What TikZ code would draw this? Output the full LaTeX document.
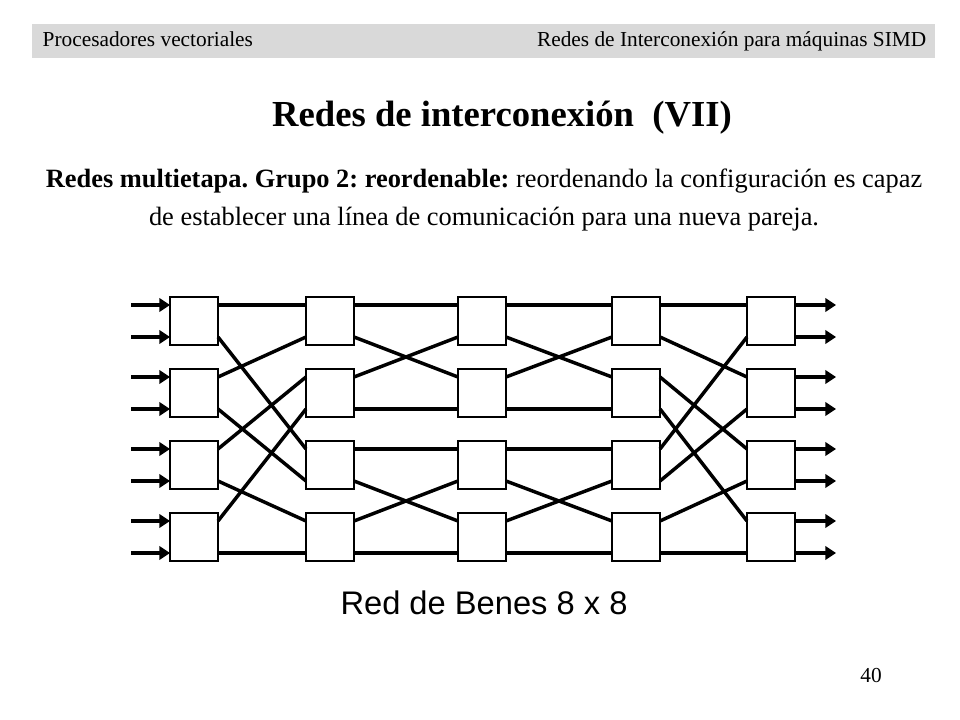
\documentclass[tikz,border=0pt]{standalone}
\usepackage{fontspec}
\setmainfont{Liberation Serif}
\newfontfamily\arialfont{Liberation Sans}
\usetikzlibrary{arrows.meta}
\definecolor{barGray}{RGB}{217,217,217}
\frenchspacing
\begin{document}
\begin{tikzpicture}[x=0.75pt,y=-0.75pt]
  \tikzstyle{switch}=[draw=black,thick,fill=white,minimum size=36pt,inner sep=0pt]
  \tikzstyle{link}=[draw,line width=2.6pt]
  \tikzstyle{port}=[draw,line width=2.6pt,-{Triangle[length=8pt,width=10pt]}]
  \useasboundingbox (0,0) rectangle (960,720);
  % header
  \fill[barGray] (32,24) rectangle (935,58);
  \node[anchor=base west,font=\fontsize{16}{18}\selectfont] (hl) at (38,47) {Procesadores vectoriales};
  \node[anchor=base east,font=\fontsize{16}{18}\selectfont] (hr) at (931,47) {Redes de Interconexión para máquinas SIMD};
  \node[font=\fontsize{27.5}{30}\selectfont\bfseries] (title) at (502,118) {Redes de interconexión\ \ (VII)};
  \node[font=\fontsize{19.8}{29}\selectfont,align=center] (sub) at (484,200)
    {\textbf{Redes multietapa. Grupo 2: reordenable:} reordenando la configuración es capaz\\
     de establecer una línea de comunicación para una nueva pareja.};
  % switches and their ports
  \foreach \c/\x in {1/170,2/306,3/458,4/612,5/747} {
    \foreach \r/\y in {0/297,1/369,2/441,3/513} {
      \node[switch] (b\c\r) at (\x+24,\y+24) {};
      \coordinate (l\c\r0) at (\x,\y+8);
      \coordinate (l\c\r1) at (\x,\y+40);
      \coordinate (r\c\r0) at (\x+48,\y+8);
      \coordinate (r\c\r1) at (\x+48,\y+40);
    }
  }
  % inputs and outputs
  \foreach \r/\y in {0/297,1/369,2/441,3/513} {
    \foreach \p/\d in {0/8,1/40} {
      \coordinate (in\r\p) at (131,\y+\d);
      \coordinate (out\r\p) at (836,\y+\d);
      \path[port] (in\r\p) -- (l1\r\p);
      \path[port] (r5\r\p) -- (out\r\p);
    }
  }
  % stage 1 -> 2
  \foreach \a/\b in {00/00,01/20,10/01,11/21,20/10,21/30,30/11,31/31}
    \path[link] (r1\a) -- (l2\b);
  % stages 2 -> 3 and 3 -> 4
  \foreach \s/\t in {2/3,3/4}
    \foreach \a/\b in {00/00,01/10,10/01,11/11,20/20,21/30,30/21,31/31}
      \path[link] (r\s\a) -- (l\t\b);
  % stage 4 -> 5
  \foreach \a/\b in {00/00,01/10,10/20,11/30,20/01,21/11,30/21,31/31}
    \path[link] (r4\a) -- (l5\b);
  \node[font=\arialfont\fontsize{24.5}{28}\selectfont] (lbl) at (484,603) {Red de Benes 8 x 8};
  \node[font=\fontsize{16}{18}\selectfont] (pg) at (871,676) {40};
\end{tikzpicture}
\end{document}
